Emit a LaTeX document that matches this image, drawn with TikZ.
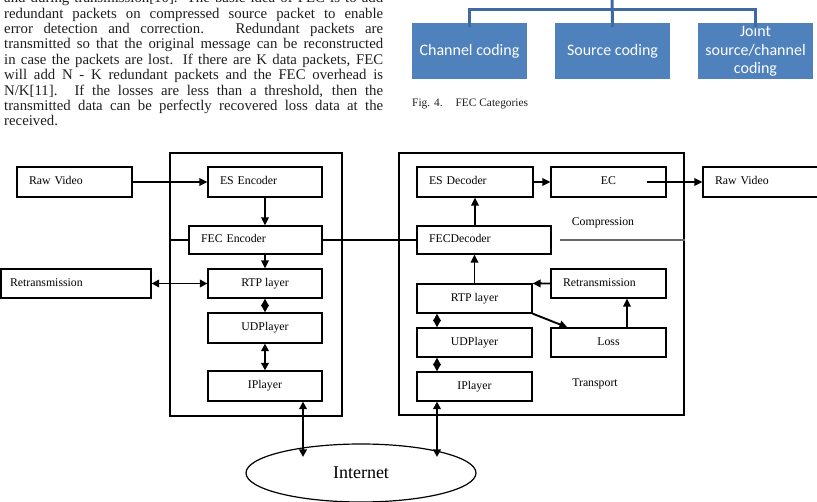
\documentclass[tikz,border=0pt]{standalone}
\usepackage{fontspec}
\setmainfont{Liberation Serif}
\newfontfamily\smartfont{Carlito}
\usetikzlibrary{arrows.meta,shapes.geometric}
\definecolor{smartblue}{HTML}{4F81BD}
\definecolor{smartline}{HTML}{3E6AA3}
\definecolor{bodytext}{HTML}{1E1E1E}
\newcommand\labfont{\fontsize{11.8}{13}\selectfont}
\newcommand\bodyfont{\fontsize{14.8}{15.4}\selectfont}
\tikzset{
  txtline/.style={anchor=base west, inner sep=0pt, font=\bodyfont, text=bodytext},
  cat/.style={fill=smartblue, text=white, minimum width=115pt, minimum height=56pt, inner sep=0pt, align=center, font=\smartfont\fontsize{16}{18.3}\selectfont},
  blk/.style={draw, line width=1.2pt, inner sep=0pt, minimum height=30pt, font=\labfont, text height=8.5pt, text depth=2.5pt},
  cbox/.style={blk, minimum width=#1},
  lbox/.style={blk, text width=#1, align=left, inner xsep=12pt},
  frame/.style={draw, line width=1.2pt, inner sep=0pt},
  arr/.style={line width=1.9pt, -{Triangle[length=8pt,width=7.5pt]}},
  darr/.style={line width=1.9pt, {Triangle[length=7.5pt,width=7.5pt]}-{Triangle[length=7.5pt,width=7.5pt]}},
  plain/.style={line width=1.2pt},
  freelabel/.style={inner sep=0pt, font=\labfont}
}
\begin{document}
\begin{tikzpicture}[x=1pt,y=-1pt]
\useasboundingbox (0,0) rectangle (817,502);

% ---- body text ----
\node[txtline] (t0) at (4,2.5) {\makebox[379pt][s]{and during transmission[10]. The basic idea of FEC is to add}};
\node[txtline] (t1) at (4,18.1) {\makebox[379pt][s]{redundant packets on compressed source packet to enable}};
\node[txtline] (t2) at (4,33.5) {\makebox[379pt][s]{error detection and correction.\hspace{6pt} Redundant packets are}};
\node[txtline] (t3) at (4,48.9) {\makebox[379pt][s]{transmitted so that the original message can be reconstructed}};
\node[txtline] (t4) at (4,64.3) {\makebox[379pt][s]{in case the packets are lost. If there are K data packets, FEC}};
\node[txtline] (t5) at (4,79.7) {\makebox[379pt][s]{will add N - K redundant packets and the FEC overhead is}};
\node[txtline] (t6) at (4,95.1) {\makebox[379pt][s]{N/K[11]. If the losses are less than a threshold, then the}};
\node[txtline] (t7) at (4,110.5) {\makebox[379pt][s]{transmitted data can be perfectly recovered loss data at the}};
\node[txtline] (t8) at (4,125.9) {received.};

% ---- FEC categories ----
\node[cat] (ch) at (469.5,51) {Channel coding};
\node[cat] (src) at (612.5,51) {Source coding};
\node[cat] (jt) at (755.5,51) {Joint\\source/channel\\coding};
\coordinate (hub) at (612,9.5);
\coordinate (treetop) at (612,-3);
\draw[smartline, line width=3pt] (treetop) -- ([yshift=-4pt]src.north);
\draw[smartline, line width=3pt] ([yshift=-4pt]ch.north) |- (hub) -| ([yshift=-4pt]jt.north);
\node[anchor=base west, inner sep=0pt, font=\fontsize{11.4}{13}\selectfont, text=bodytext] (cap) at (412,107) {Fig. 4.\hspace{13pt}FEC Categories};

% ---- frames ----
\node[frame, minimum width=172pt, minimum height=263pt] (bigL) at (256,284.5) {};
\node[frame, minimum width=285pt, minimum height=262pt] (bigR) at (541.5,284) {};

% ---- left side ----
\node[lbox=91pt] (rawL) at (74.5,182) {Raw Video};
\node[lbox=90pt] (esenc) at (265,182) {ES Encoder};
\node[lbox=109pt, minimum height=28pt] (fecenc) at (255.5,240) {FEC Encoder};
\node[lbox=132pt, inner xsep=9pt, minimum height=29pt] (retL) at (76,283.5) {Retransmission};
\node[cbox=114pt, minimum height=29pt] (rtpL) at (265,283.5) {RTP layer};
\node[cbox=114pt] (udpL) at (265,328) {UDPlayer};
\node[cbox=114pt] (ipL) at (265,386) {IPlayer};

% ---- right side ----
\node[lbox=92pt] (esdec) at (475,182) {ES Decoder};
\node[cbox=115pt] (ec) at (608.5,182) {EC};
\node[lbox=91pt] (rawR) at (760.5,182) {Raw Video};
\node[lbox=110pt, minimum height=28pt] (fecdec) at (484,240) {FECDecoder};
\node[cbox=115pt, minimum height=29pt] (rtpR) at (474.5,298.5) {RTP layer};
\node[lbox=91pt, minimum height=29pt] (retR) at (608.5,283.5) {Retransmission};
\node[cbox=115pt, minimum height=29pt] (loss) at (608.5,342.5) {Loss};
\node[cbox=115pt, minimum height=29pt] (udpR) at (474.5,342.5) {UDPlayer};
\node[cbox=115pt, minimum height=29pt] (ipR) at (474.5,386.5) {IPlayer};
\node[freelabel] (comp) at (603,223) {Compression};
\node[freelabel] (trans) at (595,384) {Transport};

% ---- internet ----
\node[draw, ellipse, line width=1.2pt, minimum width=230pt, minimum height=58pt, inner sep=0pt, font=\fontsize{18}{20}\selectfont] (net) at (361,473) {Internet};
\coordinate (netA) at (303,457);
\coordinate (netB) at (437,457);

% ---- connectors, left ----
\draw[arr] (rawL.east) -- (esenc.west);
\draw[arr] (esenc.south) -- (esenc.south |- fecenc.north);
\draw[arr] (rtpL.north |- fecenc.south) -- (rtpL.north);
\draw[darr] (retL.east) -- (rtpL.west);
\draw[darr] (rtpL.south) -- (udpL.north);
\draw[darr] (udpL.south) -- (ipL.north);
\draw[darr] (ipL.south -| netA) -- (netA);

% ---- horizontal FEC line ----
\draw[plain] (bigL.west |- fecenc.west) -- (fecenc.west);
\draw[plain] (fecenc.east) -- (fecdec.west);
\draw[plain, black!60] ([xshift=8pt]fecdec.east) -- (bigR.east |- fecdec.east);

% ---- connectors, right ----
\draw[arr] (esdec.south |- fecdec.north) -- (esdec.south);
\draw[arr] (rtpR.north) -- (rtpR.north |- fecdec.south);
\draw[arr] (esdec.east) -- (ec.west);
\draw[arr] ([xshift=38.5pt]ec.center) -- (rawR.west);
\draw[arr] (retR.west) -- (rtpR.north east);
\draw[arr] (rtpR.south east) -- ([xshift=17pt]loss.north west);
\draw[arr] ([xshift=18.5pt]loss.north) -- ([xshift=18.5pt]retR.south);
\draw[darr] ([xshift=-37.5pt]rtpR.south) -- ([xshift=-37.5pt]udpR.north);
\draw[darr] ([xshift=-37.5pt]udpR.south) -- ([xshift=-37.5pt]ipR.north);
\draw[darr] (ipR.south -| netB) -- (netB);
\end{tikzpicture}
\end{document}
